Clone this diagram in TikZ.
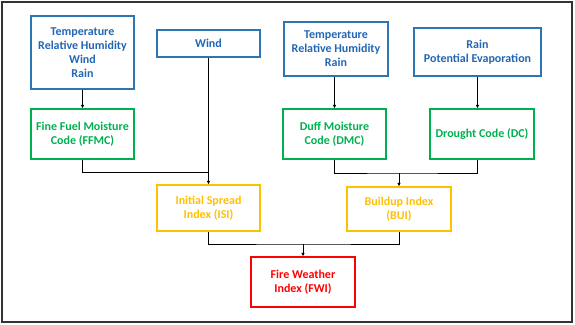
\documentclass[tikz,border=0pt]{standalone}
\usepackage{fontspec}
\setmainfont{Carlito}
\usepackage{xcolor}
\usepackage{tikz}
\usetikzlibrary{arrows.meta}

\definecolor{azul}{HTML}{2E75B6}
\definecolor{azultexto}{HTML}{2266B4}
\definecolor{verde}{HTML}{00B050}
\definecolor{oro}{HTML}{FFC000}
\definecolor{rojo}{HTML}{FF0000}

\tikzset{
  caja/.style={draw, line width=1.3pt, align=center, font=\bfseries\fontsize{12}{14}\selectfont,
    minimum width=103pt, inner sep=1pt},
  entrada/.style={caja, draw=azul, text=azultexto},
  codigo/.style={caja, draw=verde, text=verde, minimum height=50pt},
  indice/.style={caja, draw=oro, text=oro},
  final/.style={caja, draw=rojo, text=rojo, minimum height=50pt},
  flecha/.style={-{Latex[length=3.5pt,width=3.5pt]}, line width=0.8pt},
  linea/.style={line width=0.8pt}
}

\begin{document}
\begin{tikzpicture}[x=1pt,y=-1pt]

% Marco
\useasboundingbox (0,0) rectangle (575,324);
\draw[line width=1.5pt, black!80] (2,2) rectangle (572,322);

% Datos meteorologicos
\node[entrada, minimum height=73pt] (tin1) at (82.5,52.5) {Temperature\\Relative Humidity\\Wind\\Rain};
\node[entrada, minimum height=27pt] (wind) at (208.5,43.5) {Wind};
\node[entrada, minimum width=104pt, minimum height=54pt] (tin2) at (336,49) {Temperature\\Relative Humidity\\Rain};
\node[entrada, minimum width=127pt, minimum height=48pt] (tin3) at (477.5,52) {Rain\\Potential Evaporation};

% Codigos de humedad
\node[codigo] (ffmc) at (82.5,134) {Fine Fuel Moisture\\Code (FFMC)};
\node[codigo] (dmc) at (334.5,134) {Duff Moisture\\Code (DMC)};
\node[codigo, minimum width=104pt] (dc) at (482,134) {Drought Code (DC)};

% Indices
\node[indice, minimum height=46pt] (isi) at (208.5,208) {Initial Spread\\Index (ISI)};
\node[indice, minimum width=104pt, minimum height=44pt] (bui) at (399,209) {Buildup Index\\(BUI)};
\node[final, minimum width=104pt] (fwi) at (303,282) {Fire Weather\\Index (FWI)};

% Uniones
\coordinate (j1) at (208.5,172);
\coordinate (j2) at (399,173);
\coordinate (j3) at (303,244);

% Conectores
\draw[flecha] (tin1) -- (ffmc);
\draw[flecha] (tin2.south -| dmc) -- (dmc);
\draw[flecha] (tin3) -- (tin3 |- dc.north);
\draw[linea] (ffmc) |- (j1);
\draw[flecha] (wind) -- (isi);
\draw[linea] (dmc) |- (j2) -| (dc.south -| tin3);
\draw[flecha] (j2) -- (bui);
\draw[linea] (isi) |- (j3) -| (bui);
\draw[flecha] (j3) -- (fwi);

\end{tikzpicture}
\end{document}
